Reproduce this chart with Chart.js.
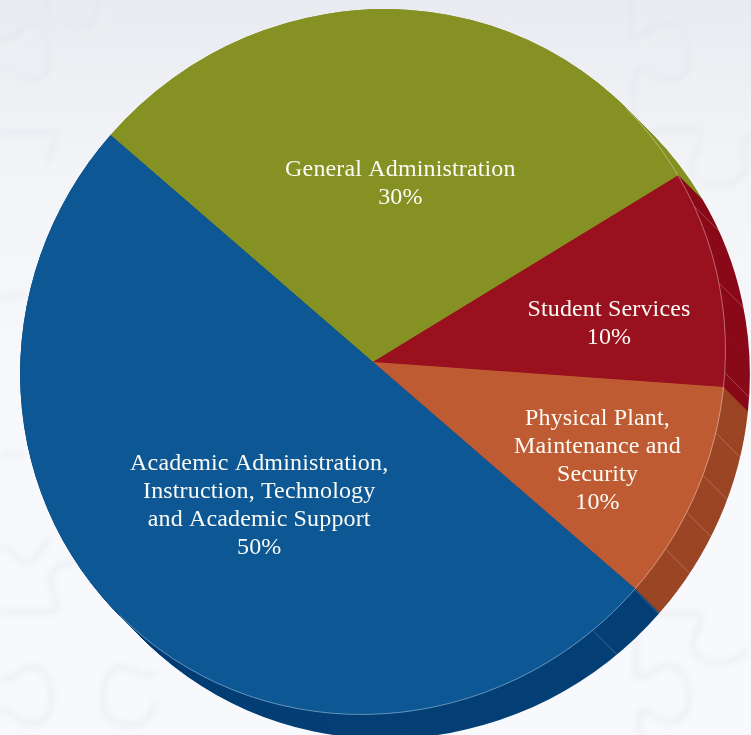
<!DOCTYPE html>
<html>
<head>
<meta charset="utf-8">
<title>Expenses by function</title>
<script src="https://cdn.jsdelivr.net/npm/chart.js@4"></script>
<style>
  html, body { margin: 0; padding: 0; }
  #page {
    position: relative; width: 751px; height: 735px; overflow: hidden;
    background: linear-gradient(to bottom, #e9ebf0 0, #f3f4f8 170px, #f8f9fd 400px, #f8f9fd 735px);
  }
  #page svg, #page canvas { position: absolute; left: 0; top: 0; }
</style>
</head>
<body>
<div id="page">
  <svg width="751" height="735" fill="none">
    <defs>
      <filter id="soft" x="-10%" y="-10%" width="120%" height="120%"><feGaussianBlur stdDeviation="3"/></filter>
      <path id="puzzle" d="M633 0V36C645 42 652 26 668 26C682 26 692 42 692 58C692 74 680 84 666 82C654 80 646 66 638 72C634 78 636 120 636 133M650 132H700C708 146 690 156 692 170C698 190 734 194 746 172C750 160 736 146 751 136M0 40C16 44 22 26 34 26C48 28 54 46 52 62C50 78 36 84 26 80C16 76 10 66 0 70M48 0C48 18 62 30 82 30C96 28 100 14 101 0M0 134H55C62 146 48 152 50 164M0 297H25M0 455H25M0 612H56C64 600 46 592 52 576C58 564 68 562 78 566M0 550C10 544 14 560 28 564C38 560 40 548 50 540M0 680C14 684 22 666 34 668C48 670 54 688 52 704C50 722 36 728 24 722C14 718 8 708 0 712M156 672C148 684 132 664 118 668C104 674 102 692 104 706C106 722 124 730 142 724C150 720 156 708 156 700M637 640V676C649 682 656 666 670 666C682 666 690 682 690 698C690 714 680 724 666 722C654 720 646 706 642 712C638 718 640 730 640 735M634 614H700C708 624 690 634 694 648C698 668 734 670 748 650"/>
    </defs>
    <use href="#puzzle" stroke="#d8dbe4" stroke-opacity="0.4" stroke-width="6" filter="url(#soft)"/>
    <use href="#puzzle" x="3" y="3" stroke="#ffffff" stroke-opacity="0.45" stroke-width="3" filter="url(#soft)"/>
  </svg>
  <canvas id="wallChart" width="751" height="735"></canvas>
  <canvas id="pieChart" width="751" height="735"></canvas>
</div>
<script>
const categories = ["General Administration", "Student Services", "Physical Plant, Maintenance and Security", "Academic Administration, Instruction, Technology and Academic Support"];
const shares = [30, 10, 10, 50];
const labelLines = [
  ["General Administration"],
  ["Student Services"],
  ["Physical Plant,", "Maintenance and", "Security"],
  ["Academic Administration,", "Instruction, Technology", "and Academic Support"]
];
const faceColors = ["#859122", "#99111f", "#bf5b33", "#0c5794"];
const wallColors = ["#859122", "#8a0a1a", "#9a4524", "#043f75"];

// nudge from the middle of each slice to where its label sits
const labelNudges = [[12, -2], [64, 1], [62, 30], [2, 10]];
// seams on the side wall, degrees clockwise from 12 o'clock
const wallSeams = [64.3, 77.2, 91.8, 101.7, 109, 115.6, 122.6, 131, 140.7];

const startAngle = -49;
const depth = 24;
const padding = { left: 20, top: 9, right: 25, bottom: 20 };
// the pie leans a little, so its outline is a slanted ellipse
const stretchLong = 1.016;
const stretchShort = 0.983;

function tiltMatrix(x, y) {
  return new DOMMatrix()
    .translate(x, y)
    .rotate(-45)
    .scale(stretchLong, stretchShort)
    .rotate(45)
    .translate(-x, -y);
}

function applyTilt(ctx, x, y) {
  ctx.setTransform(ctx.getTransform().multiply(tiltMatrix(x, y)));
}

const extrude = {
  id: "extrude",
  beforeDatasetsDraw(chart) {
    const ctx = chart.ctx;
    const arcs = chart.getDatasetMeta(0).data;
    const { x, y } = arcs[0];
    for (let d = depth; d >= 1; d--) {
      ctx.save();
      ctx.translate(d, d);
      applyTilt(ctx, x, y);
      arcs.forEach((arc) => arc.draw(ctx));
      ctx.restore();
    }
    ctx.save();
    applyTilt(ctx, x, y);
  },
  afterDatasetsDraw(chart) {
    const ctx = chart.ctx;
    ctx.restore();
    const { x, y, outerRadius } = chart.getDatasetMeta(0).data[0];
    const m = tiltMatrix(x, y);
    const inv = m.inverse();
    ctx.save();
    ctx.strokeStyle = "rgba(255,255,255,0.28)";
    ctx.lineWidth = 0.8;
    wallSeams.forEach((deg) => {
      const a = deg * Math.PI / 180;
      // find the point on the slanted outline in that direction
      const q = inv.transformPoint(new DOMPoint(x + Math.sin(a), y - Math.cos(a)));
      const len = Math.hypot(q.x - x, q.y - y);
      const p = m.transformPoint(new DOMPoint(x + (q.x - x) * outerRadius / len, y + (q.y - y) * outerRadius / len));
      ctx.beginPath();
      ctx.moveTo(p.x, p.y);
      ctx.lineTo(p.x + depth, p.y + depth);
      ctx.stroke();
    });
    ctx.restore();
  }
};

const pieLabels = {
  id: "pieLabels",
  beforeDatasetsDraw(chart) {
    const { x, y } = chart.getDatasetMeta(0).data[0];
    chart.ctx.save();
    applyTilt(chart.ctx, x, y);
  },
  afterDatasetsDraw(chart) {
    const ctx = chart.ctx;
    const arcs = chart.getDatasetMeta(0).data;
    const { x, y, outerRadius } = arcs[0];

    // light rim where the face overlaps the wall
    ctx.strokeStyle = "rgba(255,255,255,0.45)";
    ctx.lineWidth = 0.8;
    ctx.beginPath();
    ctx.arc(x, y, outerRadius - 0.4, -Math.PI / 4, Math.PI * 3 / 4);
    ctx.stroke();
    ctx.restore();

    ctx.save();
    ctx.fillStyle = "#fbfbf6";
    ctx.font = "24px 'Liberation Serif'";
    ctx.letterSpacing = "0.15px";
    ctx.textAlign = "center";
    ctx.textBaseline = "middle";
    arcs.forEach((arc, i) => {
      const pos = arc.tooltipPosition();
      const lines = labelLines[i].concat(shares[i] + "%");
      const cx = pos.x + labelNudges[i][0];
      const top = pos.y + labelNudges[i][1] - (lines.length - 1) * 14;
      lines.forEach((line, n) => ctx.fillText(line, cx, top + n * 28));
    });
    ctx.restore();
  }
};

function makePie(id, colors, plugin) {
  return new Chart(document.getElementById(id), {
    type: "pie",
    data: {
      labels: categories,
      datasets: [{ data: shares, backgroundColor: colors, borderWidth: 0, clip: false }]
    },
    options: {
      responsive: false,
      animation: false,
      rotation: startAngle,
      layout: { padding },
      plugins: { legend: { display: false }, tooltip: { enabled: false } }
    },
    plugins: [plugin]
  });
}

makePie("wallChart", wallColors, extrude);
makePie("pieChart", faceColors, pieLabels);
</script>
</body>
</html>
